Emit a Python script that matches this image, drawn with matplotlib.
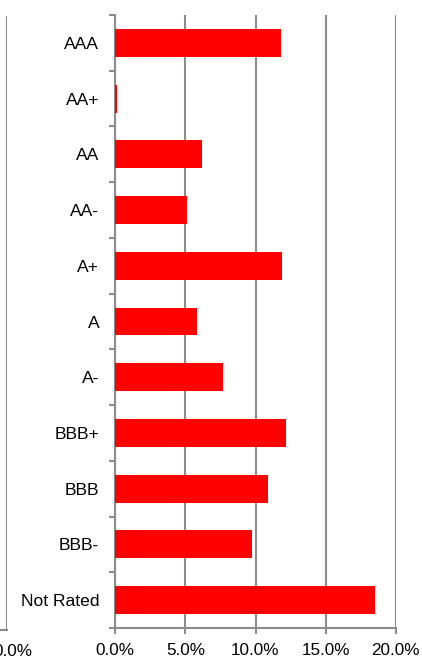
import matplotlib.pyplot as plt
import numpy as np
from matplotlib.ticker import FuncFormatter

plt.rcParams["font.family"] = ["Liberation Sans", "DejaVu Sans"]

RATINGS = ["AAA", "AA+", "AA", "AA-", "A+", "A", "A-", "BBB+", "BBB", "BBB-", "Not Rated"]
SHARE_PCT = [11.8, 0.1, 6.2, 5.1, 11.9, 5.85, 7.65, 12.2, 10.9, 9.75, 18.5]
X_TICKS = [0, 5, 10, 15, 20]

GRID = "#8c8c8c"


def pct(v, _):
    return f"{v:.1f}%"


fig = plt.figure(figsize=(4.22, 6.6), dpi=100)
W, H = 422, 660
ax = fig.add_axes([115.3 / W, 32 / H, 280.4 / W, 613 / H])
ax_left = fig.add_axes([-0.5, 30 / H, 0.5 + 7 / W, 614 / H])

# --- main bars -------------------------------------------------------------
y = np.arange(len(RATINGS))
ax.barh(y, SHARE_PCT, height=0.5, color="#ff0000", zorder=3)
ax.set_ylim(len(RATINGS) - 0.5, -0.5)
ax.set_xlim(0, 20)
ax.set_xticks(X_TICKS)
ax.xaxis.set_major_formatter(FuncFormatter(pct))
ax.set_yticks(y)
ax.set_yticklabels(RATINGS)
ax.set_yticks(np.arange(-0.5, len(RATINGS), 1), minor=True)
ax.tick_params(axis="y", which="major", length=0, pad=11.5, labelsize=12.6)
ax.tick_params(axis="y", which="minor", length=4.5, width=1.5, color=GRID)
ax.tick_params(axis="x", length=4, width=1.5, color=GRID, pad=6.5, labelsize=12.3)
ax.grid(axis="x", color=GRID, linewidth=1.5, zorder=0)
for side in ("top", "right"):
    ax.spines[side].set_visible(False)
for side in ("left", "bottom"):
    ax.spines[side].set_color(GRID)
    ax.spines[side].set_linewidth(1.5)

# --- cut-off neighbouring panel on the left -------------------------------
ax_left.set_xlim(-20, 0)
ax_left.set_ylim(0, 1)
ax_left.set_xticks([0])
ax_left.set_xticklabels([""])
ax_left.set_yticks([])
ax_left.tick_params(axis="x", length=0)
ax_left.grid(axis="x", color=GRID, linewidth=1.5)
for side in ("top", "left", "right"):
    ax_left.spines[side].set_visible(False)
ax_left.spines["bottom"].set_color(GRID)
ax_left.spines["bottom"].set_linewidth(1.5)
fig.text(13 / W, 1 - 651 / H, pct(0, None), ha="center", va="center", fontsize=12.3)

fig.savefig("out.png", dpi=100)
